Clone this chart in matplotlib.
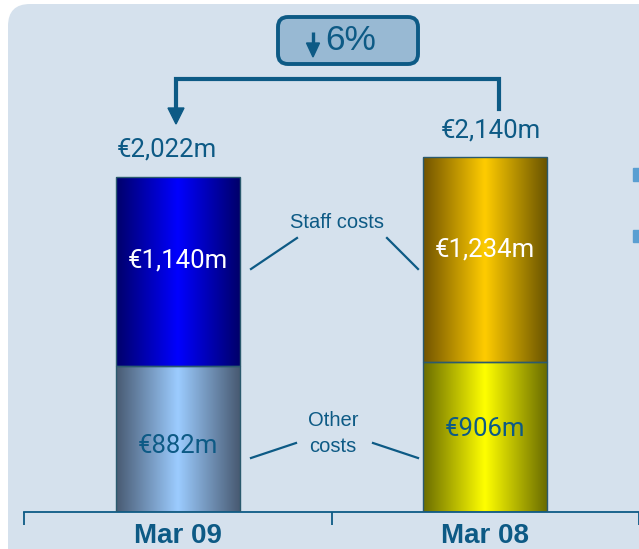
import matplotlib
matplotlib.use("Agg")
import matplotlib.pyplot as plt
import numpy as np
from matplotlib.colors import LinearSegmentedColormap
from matplotlib.patches import FancyBboxPatch, Rectangle, Polygon

# ---------------- data ----------------
categories = ["Mar 09", "Mar 08"]
other_costs = [882, 906]
staff_costs = [1140, 1234]
totals = [2022, 2140]
other_labels = ["€882m", "€906m"]
staff_labels = ["€1,140m", "€1,234m"]
total_labels = ["€2,022m", "€2,140m"]
change_label = "6%"

# gradient colours (edge, centre, edge)
other_grad = [["#485a72", "#9cccff", "#485a72"], ["#6a6c00", "#ffff00", "#6a6c00"]]
staff_grad = [["#00006a", "#0000ff", "#00006a"], ["#715300", "#ffcc00", "#6a5400"]]
other_txt = ["#0d5a85", "#0d5a85"]
staff_txt = ["white", "white"]

DARK = "#0d5a85"
BG = "#d5e1ed"
W, H = 639, 549
NARROW = ["Roboto", "DejaVu Sans"]
SANS = ["Liberation Sans", "DejaVu Sans"]
VFS = 18.5

fig = plt.figure(figsize=(W / 100, H / 100), dpi=100)
fig.patch.set_facecolor("white")

# background panel
bg = fig.add_axes([0, 0, 1, 1], zorder=0)
bg.set_xlim(0, W)
bg.set_ylim(H, 0)
bg.axis("off")
bg.add_patch(FancyBboxPatch((8, 4), 700, 600, boxstyle="round,pad=0,rounding_size=22",
                            facecolor=BG, edgecolor="none"))

# main bar axes
base_px = 512
px_per_unit = 335 / 2022.0
left_px = 24
slot_px = 310
ax = fig.add_axes([left_px / W, (H - base_px) / H, (W - left_px) / W, base_px / H], zorder=1)
ax.patch.set_alpha(0)
x = np.arange(len(categories))
bw = 125 / slot_px

grad = np.linspace(0, 1, 256).reshape(1, -1)
for i in range(len(categories)):
    segs = [(0, other_costs[i], other_grad[i]), (other_costs[i], staff_costs[i], staff_grad[i])]
    for b, v, cols in segs:
        cmap = LinearSegmentedColormap.from_list("g", list(zip([0, 0.5, 1], cols)))
        ax.imshow(grad, extent=[x[i] - bw / 2, x[i] + bw / 2, b, b + v], aspect="auto",
                  cmap=cmap, zorder=2, interpolation="bilinear")
ax.bar(x, other_costs, bw, fill=False, edgecolor="#2b5a6e", linewidth=1.0, zorder=3)
ax.bar(x, staff_costs, bw, bottom=other_costs, fill=False, edgecolor="#2b5a6e", linewidth=1.0, zorder=3)

ax.set_xlim(-0.5, -0.5 + (W - left_px) / slot_px)
ax.set_ylim(0, base_px / px_per_unit)
for s in ["top", "right", "left"]:
    ax.spines[s].set_visible(False)
ax.spines["bottom"].set_color(DARK)
ax.spines["bottom"].set_linewidth(1.3)
ax.set_yticks([])
ax.set_xticks([-0.5, 0.5, 1.5])
ax.set_xticklabels([])
ax.tick_params(axis="x", length=9, width=1.3, color=DARK, direction="out")
for i, c in enumerate(categories):
    ax.annotate(c, xy=(x[i], 0), xytext=(0, -24), textcoords="offset pixels",
                ha="center", va="center", fontsize=20, fontweight="bold",
                color=DARK, family=SANS, annotation_clip=False)

# labels inside bars
other_off = [-7, 8]
staff_off = [11, 10]
for i in range(len(categories)):
    ax.annotate(other_labels[i], xy=(x[i], other_costs[i] / 2), xytext=(0, other_off[i]),
                textcoords="offset pixels", ha="center", va="center", fontsize=VFS,
                color=other_txt[i], family=NARROW, zorder=5)
    ax.annotate(staff_labels[i], xy=(x[i], other_costs[i] + staff_costs[i] / 2),
                xytext=(0, staff_off[i]), textcoords="offset pixels", ha="center",
                va="center", fontsize=VFS, color=staff_txt[i], family=NARROW, zorder=5)

tot_off = [(-11, 27), (6, 27)]
for i in range(len(categories)):
    ax.annotate(total_labels[i], xy=(x[i], totals[i]), xytext=tot_off[i],
                textcoords="offset pixels", ha="center", va="center", fontsize=VFS,
                color=DARK, family=NARROW, annotation_clip=False)

# overlay for annotations
ov = fig.add_axes([0, 0, 1, 1], zorder=2)
ov.set_xlim(0, W)
ov.set_ylim(H, 0)
ov.axis("off")
ov.patch.set_alpha(0)

# change box
ov.add_patch(FancyBboxPatch((278, 17), 140, 47, boxstyle="round,pad=0,rounding_size=10",
                            facecolor="#98b9d3", edgecolor=DARK, linewidth=2.8))
ov.plot([313, 313], [32, 46], color=DARK, lw=2.4, solid_capstyle="butt")
ov.add_patch(Polygon([[306.5, 43], [319.5, 43], [313, 57]], closed=True, color=DARK))
ov.text(351, 41, change_label, ha="center", va="center", fontsize=25.5, color=DARK, family=SANS)

# bracket
ov.plot([176, 176, 499, 499], [110, 79, 79, 109], color=DARK, lw=3, solid_joinstyle="miter")
ov.add_patch(Polygon([[168, 108], [184, 108], [176, 124]], closed=True, color=DARK))

# series annotations
ov.text(337, 223, "Staff costs", ha="center", va="center", fontsize=14.5, color=DARK, family=SANS)
ov.plot([251, 297], [269, 238], color=DARK, lw=1.6)
ov.plot([387, 418], [238, 269], color=DARK, lw=1.6)
ov.text(333, 421, "Other", ha="center", va="center", fontsize=14.5, color=DARK, family=SANS)
ov.text(333, 447, "costs", ha="center", va="center", fontsize=14.5, color=DARK, family=SANS)
ov.plot([251, 296], [458, 443], color=DARK, lw=1.6)
ov.plot([373, 418], [443, 458], color=DARK, lw=1.6)

# small bullet squares at right edge
ov.add_patch(Rectangle((633, 168), 8, 13, color="#5a9fd2"))
ov.add_patch(Rectangle((633, 230), 8, 12, color="#5a9fd2"))

fig.savefig("out.png", dpi=100)
